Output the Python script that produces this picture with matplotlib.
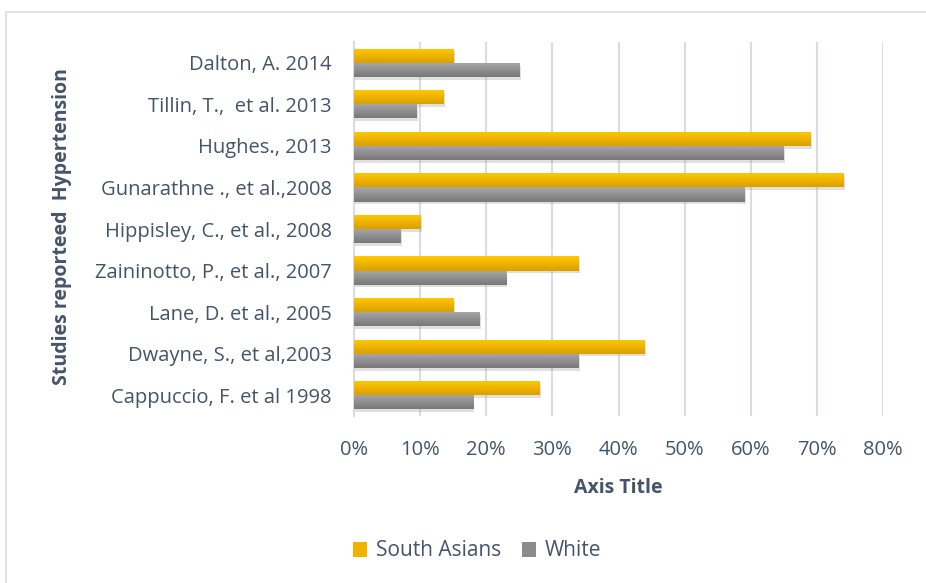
import numpy as np
import matplotlib.pyplot as plt
import matplotlib.patheffects as pe
from matplotlib.colors import LinearSegmentedColormap
from matplotlib.patches import Rectangle, Patch

plt.rcParams['font.family'] = ['Open Sans', 'DejaVu Sans']

# Data (top to bottom as in the chart)
studies = ['Dalton, A. 2014', 'Tillin, T.,  et al. 2013', 'Hughes., 2013',
           'Gunarathne ., et al.,2008', 'Hippisley, C., et al., 2008',
           'Zaininotto, P., et al., 2007', 'Lane, D. et al., 2005',
           'Dwayne, S., et al,2003', 'Cappuccio, F. et al 1998']
south_asians = [15, 13.5, 69, 74, 10, 34, 15, 44, 28]
white = [25, 9.5, 65, 59, 7, 23, 19, 34, 18]
xticks = [0, 10, 20, 30, 40, 50, 60, 70, 80]

txt = '#44546a'
yellow_cmap = LinearSegmentedColormap.from_list('y', ['#ffca00', '#dc9f00'])
gray_cmap = LinearSegmentedColormap.from_list('g', ['#a8a8a8', '#787878'])

fig = plt.figure(figsize=(9.26, 5.83), dpi=100)
ax = fig.add_axes([0.3823, 0.2864, 0.5713, 0.6416])

# outer chart border
fig.patches.append(Rectangle((6 / 926, -0.01), 1.0, 1 - 12 / 583 + 0.01,
                             transform=fig.transFigure, fill=False,
                             edgecolor='#d9dde3', linewidth=1.2))

n = len(studies)
ypos = np.arange(n)[::-1]
h = 0.34
grad = np.linspace(0, 1, 64).reshape(-1, 1)

shadow = [pe.SimplePatchShadow(offset=(1.0, -2.0), shadow_rgbFace='#999999', alpha=0.3),
          pe.Normal()]

bars_sa = ax.barh(ypos + h / 2, south_asians, height=h, color='#f5b800',
                  zorder=3, path_effects=shadow)
bars_w = ax.barh(ypos - h / 2, white, height=h, color='#8c8c8c',
                 zorder=3, path_effects=shadow)

for bars, cmap in [(bars_sa, yellow_cmap), (bars_w, gray_cmap)]:
    for b in bars:
        x0, y0 = b.get_x(), b.get_y()
        im = ax.imshow(grad, cmap=cmap, aspect='auto', origin='upper',
                       extent=(x0, x0 + b.get_width(), y0, y0 + b.get_height()),
                       zorder=4, interpolation='bilinear')
        im.set_clip_path(b)

ax.set_xlim(0, 80)
ax.set_ylim(-0.5, n - 0.5)
ax.set_xticks(xticks)
ax.set_xticklabels([f'{t}%' for t in xticks])
ax.set_yticks(ypos)
ax.set_yticklabels(studies)
ax.tick_params(axis='both', length=0, labelsize=14.5, colors=txt)
ax.tick_params(axis='x', pad=17)
ax.tick_params(axis='y', pad=16)

ax.grid(axis='x', color='#d9dde3', linewidth=1.5, zorder=0)
for s in ['top', 'right', 'bottom']:
    ax.spines[s].set_visible(False)
ax.spines['left'].set_color('#d9dde3')
ax.spines['left'].set_linewidth(1.5)

ax.set_xlabel('Axis Title', fontsize=14, fontweight='bold', color=txt, labelpad=13)
fig.text(62 / 926, 1 - 227 / 583, 'Studies reporteed  Hypertension', rotation=90,
         ha='center', va='center', fontsize=14, fontweight='bold', color=txt)

handles = [Patch(facecolor='#f0b400', label='South Asians'),
           Patch(facecolor='#8c8c8c', label='White')]
fig.legend(handles=handles, loc='center', bbox_to_anchor=(477 / 926, 1 - 551 / 583),
           ncol=2, frameon=False, fontsize=15, labelcolor=txt,
           handlelength=0.7, handleheight=0.7, handletextpad=0.4, columnspacing=1.0)

fig.savefig('out.png', dpi=100)
